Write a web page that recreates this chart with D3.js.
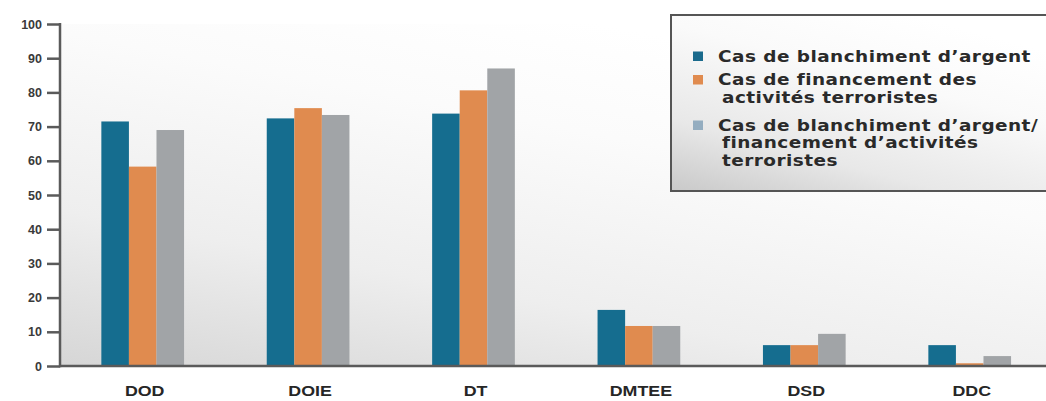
<!DOCTYPE html>
<html>
<head>
<meta charset="utf-8">
<script src="https://cdn.jsdelivr.net/npm/d3@7"></script>
<style>
  html, body { margin: 0; padding: 0; background: #ffffff; }
  svg { display: block; font-family: "DejaVu Sans", sans-serif; }
</style>
</head>
<body>
<svg id="chart" width="1046" height="401"></svg>
<script>
// Directions (categories)
const categories = ["DOD", "DOIE", "DT", "DMTEE", "DSD", "DDC"];

// Series values per direction
const blanchiment = [71.5, 72.4, 73.8, 16.4, 6.1, 6.1];
const financement = [58.3, 75.4, 80.6, 11.7, 6.1, 0.8];
const mixte = [69.0, 73.4, 87.0, 11.7, 9.4, 2.9];

const seriesNames = ["blanchiment", "financement", "mixte"];
const seriesValues = [blanchiment, financement, mixte];
const seriesColors = ["#156d8f", "#e08b4f", "#a1a4a7"];
const legendColors = ["#1a6a8c", "#e08b4f", "#94adc0"];
const legendLabels = [
  ["Cas de blanchiment d\u2019argent"],
  ["Cas de financement des", "activités terroristes"],
  ["Cas de blanchiment d\u2019argent/", "financement d\u2019activités", "terroristes"]
];

const yTicks = [0, 10, 20, 30, 40, 50, 60, 70, 80, 90, 100];

const svg = d3.select("#chart");
const W = 1046, H = 401;
const x0 = 60, yTop = 24, yBase = 366;

const x = d3.scaleBand()
  .domain(categories)
  .range([x0, x0 + 992.4])
  .paddingInner(0.5)
  .paddingOuter(0.25);

const xs = d3.scaleBand()
  .domain(seriesNames)
  .range([0, x.bandwidth()])
  .padding(0);

const y = d3.scaleLinear().domain([0, 100]).range([yBase, yTop]);

// Background shading of the plot area
const defs = svg.append("defs");
const bg = defs.append("linearGradient")
  .attr("id", "plotBg")
  .attr("x1", 0).attr("y1", 1).attr("x2", 0.55).attr("y2", 0);
bg.append("stop").attr("offset", 0).attr("stop-color", "#d6d6d6");
bg.append("stop").attr("offset", 0.35).attr("stop-color", "#eeeeee");
bg.append("stop").attr("offset", 0.75).attr("stop-color", "#fbfbfb");
bg.append("stop").attr("offset", 1).attr("stop-color", "#ffffff");

const lg = defs.append("linearGradient")
  .attr("id", "legendBg")
  .attr("x1", 0).attr("y1", 1).attr("x2", 0.6).attr("y2", 0);
lg.append("stop").attr("offset", 0).attr("stop-color", "#c9c9c9");
lg.append("stop").attr("offset", 0.3).attr("stop-color", "#e8e8e8");
lg.append("stop").attr("offset", 0.7).attr("stop-color", "#fafafa");
lg.append("stop").attr("offset", 1).attr("stop-color", "#ffffff");

svg.append("rect")
  .attr("x", x0).attr("y", yTop)
  .attr("width", W - x0).attr("height", yBase - yTop)
  .attr("fill", "url(#plotBg)");

// Bars
const groups = svg.append("g").selectAll("g")
  .data(categories)
  .join("g")
  .attr("transform", d => `translate(${x(d)},0)`);

groups.selectAll("rect")
  .data((d, i) => seriesNames.map((s, k) => ({ s, k, v: seriesValues[k][i] })))
  .join("rect")
  .attr("x", d => xs(d.s))
  .attr("width", xs.bandwidth())
  .attr("y", d => y(d.v))
  .attr("height", d => yBase - y(d.v))
  .attr("fill", d => seriesColors[d.k]);

// Y axis
const yAxis = d3.axisLeft(y)
  .tickValues(yTicks)
  .tickSize(13)
  .tickPadding(5)
  .tickFormat(d3.format("d"));

const gy = svg.append("g")
  .attr("transform", `translate(${x0},0)`)
  .call(yAxis);
gy.select(".domain").remove();
gy.selectAll(".tick line").attr("stroke", "#5a5a5a").attr("stroke-width", 2.5);
gy.selectAll(".tick text")
  .attr("fill", "#3a3a3a")
  .style("font-size", "12.5px")
  .style("font-weight", "bold");

svg.append("line")
  .attr("x1", x0).attr("x2", x0)
  .attr("y1", yTop - 1).attr("y2", yBase + 1.25)
  .attr("stroke", "#5a5a5a").attr("stroke-width", 2.5);

// X axis: wide bold labels (horizontally stretched glyphs)
const xAxis = d3.axisBottom(x).tickSize(0);
const gx = svg.append("g")
  .attr("transform", `translate(0,${yBase})`)
  .call(xAxis);
gx.select(".domain").remove();
gx.selectAll(".tick text")
  .attr("y", 0)
  .attr("dy", 0)
  .attr("transform", "translate(2,30) scale(1.15,1)")
  .attr("fill", "#262626")
  .style("font-size", "15.5px")
  .style("font-weight", "bold");

svg.append("line")
  .attr("x1", x0).attr("x2", W)
  .attr("y1", yBase).attr("y2", yBase)
  .attr("stroke", "#5a5a5a").attr("stroke-width", 2.5);

// Legend
const legend = svg.append("g");
legend.append("rect")
  .attr("x", 671).attr("y", 15)
  .attr("width", 400).attr("height", 176)
  .attr("fill", "url(#legendBg)")
  .attr("stroke", "#555555").attr("stroke-width", 2);

const rowBaselines = [62, 85.5, 131];
const lineGap = 17.5;
const stretch = 1.12;
legendLabels.forEach((lines, i) => {
  legend.append("rect")
    .attr("x", 693).attr("y", rowBaselines[i] - 10.5)
    .attr("width", 10).attr("height", 9.5)
    .attr("fill", legendColors[i]);
  const t = legend.append("text")
    .attr("transform", `translate(718,0) scale(${stretch},1)`)
    .attr("fill", "#2a2a2a")
    .style("font-size", "16.5px")
    .style("letter-spacing", "0.4px")
    .style("font-weight", "bold");
  lines.forEach((ln, j) => {
    t.append("tspan")
      .attr("x", j === 0 ? 0 : 4 / stretch)
      .attr("y", rowBaselines[i] + j * lineGap)
      .text(ln);
  });
});
</script>
</body>
</html>
